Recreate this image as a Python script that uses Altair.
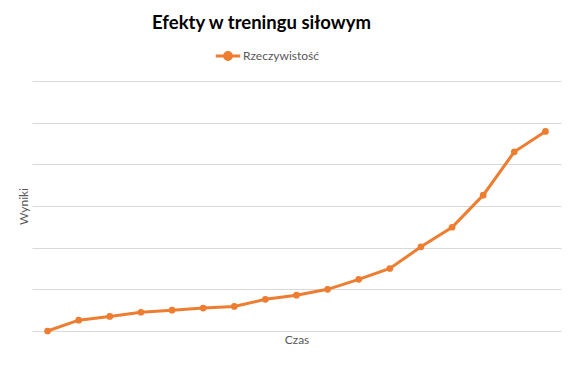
import altair as alt
import pandas as pd

okresy = [str(i) for i in range(1, 18)]
wyniki = [0.0, 0.26, 0.35, 0.45, 0.5, 0.55, 0.59, 0.76, 0.86, 1.0, 1.24, 1.5, 2.02, 2.49, 3.26, 4.3, 4.79]
seria = "Rzeczywistość"
os_y = [0, 1, 2, 3, 4, 5, 6]

df = pd.DataFrame({"Czas": okresy, "Wyniki": wyniki, "seria": seria})

orange = "#ED7D31"
grey_text = "#595959"
font = "Lato"

legend_symbol = "M-1,0L1,0M0.28,0A0.28,0.28 0 1,1 -0.28,0A0.28,0.28 0 1,1 0.28,0Z"

chart = alt.Chart(df).mark_line(
    point=alt.OverlayMarkDef(filled=True, size=45, opacity=1),
    strokeWidth=3,
).encode(
    x=alt.X("Czas:O", sort=okresy,
            axis=alt.Axis(title="Czas", labels=False, ticks=False, domain=False,
                          grid=False, titlePadding=3, titleFont=font,
                          titleFontSize=12, titleFontWeight="normal",
                          titleColor=grey_text)),
    y=alt.Y("Wyniki:Q", scale=alt.Scale(domain=[0, 6], nice=False),
            axis=alt.Axis(title="Wyniki", labels=False, ticks=False, domain=False,
                          values=os_y, grid=True, gridColor="#D9D9D9", gridWidth=1,
                          titlePadding=2, titleFont=font, titleFontSize=12,
                          titleFontWeight="normal", titleColor=grey_text)),
    color=alt.Color("seria:N", scale=alt.Scale(domain=[seria], range=[orange]),
                    legend=alt.Legend(title=None, orient="none", legendX=182, legendY=-39,
                                      symbolType=legend_symbol, symbolSize=600,
                                      symbolStrokeWidth=3, symbolFillColor=orange,
                                      symbolStrokeColor=orange, labelFont=font,
                                      labelFontSize=12, labelColor=grey_text,
                                      labelOffset=1)),
).properties(
    width=529,
    height=250,
    background="white",
    title=alt.TitleParams("Efekty w treningu siłowym", font=font, fontSize=18.5,
                          fontWeight="bold", color="#000000", anchor="middle",
                          dx=-35, offset=10),
    autosize=alt.AutoSizeParams(type="none"),
    padding={"left": 24, "top": 73, "right": 6, "bottom": 26},
).configure_view(strokeWidth=0, stroke="transparent")

chart.save("out.html", embed_options={"renderer": "svg", "actions": False})
